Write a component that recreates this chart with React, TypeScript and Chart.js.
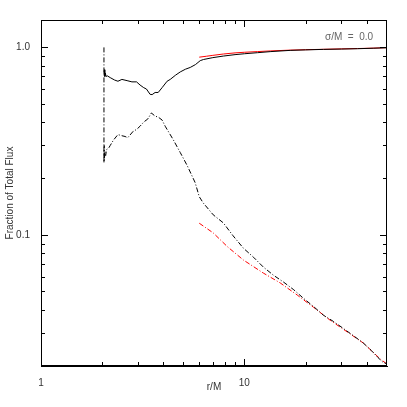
import React, { useEffect, useRef } from "react";
import { Chart, registerables } from "chart.js";

Chart.register(...registerables);

// Solid black: fraction of total flux (sigma/M = 0.0)
const rSolidBlack = [2.04, 2.05, 2.06, 2.07, 2.09, 2.12, 2.19, 2.3, 2.39, 2.5, 2.65, 2.8, 2.95, 3.07, 3.2, 3.3, 3.44, 3.52, 3.64, 3.77, 3.94, 4.17, 4.32, 4.58, 4.84, 5.13, 5.42, 5.75, 6.07, 6.3, 7.0, 7.88, 9.0, 10, 11.6, 13.5, 16.8, 20, 24.5, 30, 36, 43, 50.3];
const fSolidBlack = [0.72, 0.76, 0.7, 0.73, 0.7, 0.705, 0.69, 0.67, 0.66, 0.675, 0.665, 0.655, 0.655, 0.63, 0.61, 0.6, 0.562, 0.56, 0.575, 0.575, 0.61, 0.66, 0.675, 0.71, 0.74, 0.765, 0.782, 0.81, 0.85, 0.862, 0.882, 0.899, 0.915, 0.925, 0.937, 0.95, 0.964, 0.97, 0.976, 0.98, 0.984, 0.99, 0.996];

// Solid red
const rSolidRed = [6.0, 6.5, 7.0, 7.88, 9.0, 10, 11.6, 13.5, 16.8, 20, 24.5, 30, 36, 43, 50.3];
const fSolidRed = [0.887, 0.897, 0.907, 0.922, 0.935, 0.942, 0.95, 0.958, 0.967, 0.972, 0.977, 0.982, 0.986, 0.991, 0.997];

// Dash-dot black
const rDashBlack = [2.04, 2.04, 2.045, 2.05, 2.06, 2.08, 2.1, 2.15, 2.19, 2.27, 2.39, 2.5, 2.59, 2.67, 2.84, 2.95, 3.07, 3.2, 3.35, 3.49, 3.64, 3.77, 3.94, 4.08, 4.47, 4.84, 5.24, 5.73, 6.0, 6.28, 7.03, 7.88, 8.8, 9.89, 11.1, 12.4, 13.9, 15.6, 17.5, 19.5, 21.9, 24.5, 27.5, 30.7, 34.4, 38.5, 42.1, 45.2, 47.9, 50.3];
const fDashBlack = [1.0, 0.243, 0.3, 0.25, 0.28, 0.265, 0.285, 0.29, 0.3, 0.32, 0.343, 0.338, 0.335, 0.33, 0.357, 0.365, 0.38, 0.4, 0.415, 0.447, 0.43, 0.425, 0.41, 0.38, 0.322, 0.275, 0.234, 0.19, 0.16, 0.148, 0.128, 0.116, 0.099, 0.085, 0.076, 0.0674, 0.061, 0.056, 0.051, 0.046, 0.0415, 0.0373, 0.0345, 0.0317, 0.029, 0.0265, 0.0242, 0.0223, 0.021, 0.0205];

// Dash-dot red
const rDashRed = [6.0, 7.03, 8.25, 9.89, 12.4, 15.0, 18.2, 21.9, 26.5, 32.2, 38.5, 46.8, 50.3];
const fDashRed = [0.1155, 0.1025, 0.0866, 0.0735, 0.0626, 0.0555, 0.0478, 0.0411, 0.035, 0.0303, 0.0265, 0.0217, 0.0205];

const xMajor = [1, 10];
const xMinor = [2, 3, 4, 5, 6, 7, 8, 9, 20, 30, 40, 50];
const yMajor = [0.1, 1];
const yMinor = [0.02, 0.03, 0.04, 0.05, 0.06, 0.07, 0.08, 0.09, 0.2, 0.3, 0.4, 0.5, 0.6, 0.7, 0.8, 0.9];
const xLabels = ["1", "10"];
const yLabels = ["0.1", "1.0"];
const xTitle = "r/M";
const yTitle = "Fraction of Total Flux";
const annotation = "\u03c3/M  =  0.0";

const X_MIN = 1;
const X_MAX = 50.3;
const Y_MIN = 0.02;
const Y_MAX = 1.4;

const FONT = "'Liberation Sans', Arial, Helvetica, sans-serif";
const DASHDOT = [5, 2, 1, 2];

const pts = (xs: number[], ys: number[]) => xs.map((x, i) => ({ x, y: ys[i] }));

function drawFrame(chart: any) {
  const ctx = chart.ctx;
  const xs = chart.scales.x;
  const ys = chart.scales.y;
  const L = Math.round(xs.left);
  const R = Math.round(xs.right) - 1;
  const T = Math.round(ys.top);
  const B = Math.round(ys.bottom) - 1;
  ctx.save();
  ctx.globalAlpha = 1;
  ctx.fillStyle = "#000000";
  ctx.fillRect(L, T, R - L + 1, 1);
  ctx.fillRect(L, B, R - L + 1, 1);
  ctx.fillRect(L, T, 1, B - T + 1);
  ctx.fillRect(R, T, 1, B - T + 1);
  for (const [vals, len] of [[xMajor, 7], [xMinor, 4]] as [number[], number][]) {
    for (const v of vals) {
      if (v < xs.min || v > xs.max) continue;
      const px = Math.round(xs.getPixelForValue(v));
      ctx.fillRect(px, B - len + 1, 1, len);
      ctx.fillRect(px, T, 1, len);
    }
  }
  for (const [vals, len] of [[yMajor, 7], [yMinor, 4]] as [number[], number][]) {
    for (const v of vals) {
      if (v < ys.min || v > ys.max) continue;
      const py = Math.round(ys.getPixelForValue(v));
      ctx.fillRect(L, py, len, 1);
      ctx.fillRect(R - len + 1, py, len, 1);
    }
  }
  ctx.restore();
}

const framePlugin = {
  id: "frameTicks",
  beforeDatasetsDraw(chart: any) {
    drawFrame(chart);
  },
  afterDraw(chart: any) {
    drawFrame(chart);
    const ctx = chart.ctx;
    const xs = chart.scales.x;
    const ys = chart.scales.y;
    ctx.save();
    ctx.font = "10px " + FONT;
    ctx.fillStyle = "#666666";
    ctx.textAlign = "left";
    ctx.textBaseline = "middle";
    ctx.fillText(annotation, 325, 37);
    ctx.fillStyle = "#333333";
    ctx.textAlign = "center";
    ctx.fillText(xTitle, (xs.left + xs.right) / 2, 387);
    ctx.translate(10.5, (ys.top + ys.bottom) / 2);
    ctx.rotate(-Math.PI / 2);
    ctx.fillText(yTitle, 0, 0);
    ctx.restore();
  },
};

export default function App() {
  const ref = useRef<HTMLCanvasElement | null>(null);
  useEffect(() => {
    document.body.style.margin = "0";
    if (!ref.current) return;
    const chart = new Chart(ref.current, {
      type: "line",
      data: {
        datasets: [
          { data: pts(rSolidBlack, fSolidBlack), borderColor: "#000", borderWidth: 1, pointRadius: 0 },
          { data: pts(rDashBlack, fDashBlack), borderColor: "#000", borderWidth: 1, borderDash: DASHDOT, pointRadius: 0 },
          { data: pts(rSolidRed, fSolidRed), borderColor: "#ff0000", borderWidth: 1, pointRadius: 0 },
          { data: pts(rDashRed, fDashRed), borderColor: "#ff0000", borderWidth: 1, borderDash: DASHDOT, pointRadius: 0 },
        ],
      },
      options: {
        responsive: false,
        animation: false,
        devicePixelRatio: 1,
        layout: { padding: { left: 0, top: 20, right: 20, bottom: 0 } },
        plugins: { legend: { display: false }, tooltip: { enabled: false } },
        scales: {
          x: {
            type: "logarithmic",
            min: X_MIN,
            max: X_MAX,
            grid: { display: false },
            border: { display: true, color: "#000", width: 1 },
            afterFit: (s: any) => {
              s.height = 41;
            },
            ticks: {
              autoSkip: false,
              maxRotation: 0,
              minRotation: 0,
              color: "#333",
              font: { family: FONT, size: 10 },
              callback: (v: any) => {
                const i = xMajor.findIndex((m) => Math.abs(m - Number(v)) < 1e-9);
                return i >= 0 ? xLabels[i] : "";
              },
            },
          },
          y: {
            type: "logarithmic",
            min: Y_MIN,
            max: Y_MAX,
            grid: { display: false },
            border: { display: true, color: "#000", width: 1 },
            afterFit: (s: any) => {
              s.width = 41;
            },
            ticks: {
              autoSkip: false,
              color: "#333",
              font: { family: FONT, size: 10 },
              callback: (v: any) => {
                const i = yMajor.findIndex((m) => Math.abs(m - Number(v)) < 1e-9);
                return i >= 0 ? yLabels[i] : "";
              },
            },
          },
        },
      },
      plugins: [framePlugin],
    } as any);
    return () => chart.destroy();
  }, []);
  return (
    <div style={{ width: 407, height: 407 }}>
      <canvas ref={ref} width={407} height={407} style={{ display: "block" }} />
    </div>
  );
}
